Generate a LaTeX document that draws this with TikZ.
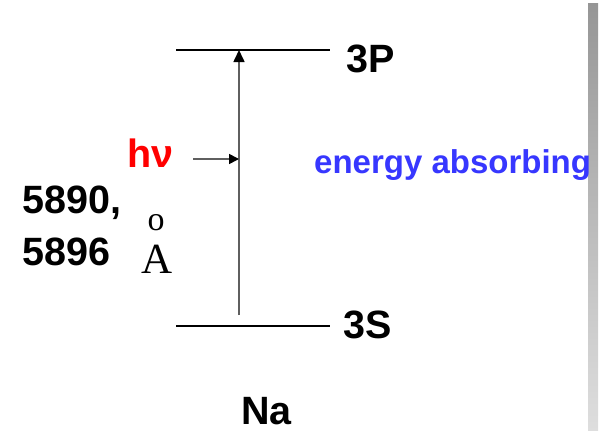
\documentclass[tikz,border=0pt]{standalone}
\usepackage{fontspec}
\setmainfont{Liberation Sans}
\newfontfamily\serifA{Liberation Serif}
\usetikzlibrary{arrows.meta}
\definecolor{hvred}{RGB}{255,0,0}
\definecolor{enblue}{RGB}{55,55,255}
\definecolor{shaftgray}{RGB}{95,95,95}
\definecolor{bartop}{RGB}{150,150,150}
\definecolor{barbot}{RGB}{222,222,222}
\begin{document}
\begin{tikzpicture}[x=1pt,y=-1pt,
  level/.style={line width=1.8pt,black},
  shaft/.style={line width=1.6pt,shaftgray,-{Triangle[length=12pt,width=11pt,color=black]}},
  lbl/.style={inner sep=0,anchor=base west,font=\bfseries\fontsize{39.5}{39.5}\selectfont}]
\useasboundingbox (0,0) rectangle (600,431);
\shade[top color=bartop,bottom color=barbot] (588,3) rectangle (598,430);
% levels
\coordinate (p1) at (176,50); \coordinate (p2) at (330,50);
\coordinate (s1) at (176,326); \coordinate (s2) at (330,326);
\draw[level] (p1) -- (p2);
\draw[level] (s1) -- (s2);
% transition arrow
\coordinate (a0) at (239,315); \coordinate (a1) at (239,50);
\draw[shaft] (a0) -- (a1);
\coordinate (h0) at (193,159); \coordinate (h1) at (239,159);
\draw[shaft,-{Triangle[length=10pt,width=10pt,color=black]}] (h0) -- (h1);
% labels
\node[lbl] (l3p) at (346,72) {3P};
\node[lbl] (l3s) at (343,338) {3S};
\node[lbl,text=hvred] (hv) at (127,167) {hν};
\node[lbl,text=enblue,font=\bfseries\fontsize{33}{33}\selectfont] (en) at (314,173) {energy absorbing};
\node[lbl] (w1) at (22,213) {5890,};
\node[lbl] (w2) at (22,265) {5896};
\node[inner sep=0,anchor=base west,font=\serifA\fontsize{43}{43}\selectfont] (ang) at (141,273) {A};
\node[inner sep=0,anchor=base,font=\serifA\fontsize{34}{34}\selectfont] (ring) at (156,230) {o};
\node[lbl] (na) at (241,424) {Na};
\end{tikzpicture}
\end{document}
